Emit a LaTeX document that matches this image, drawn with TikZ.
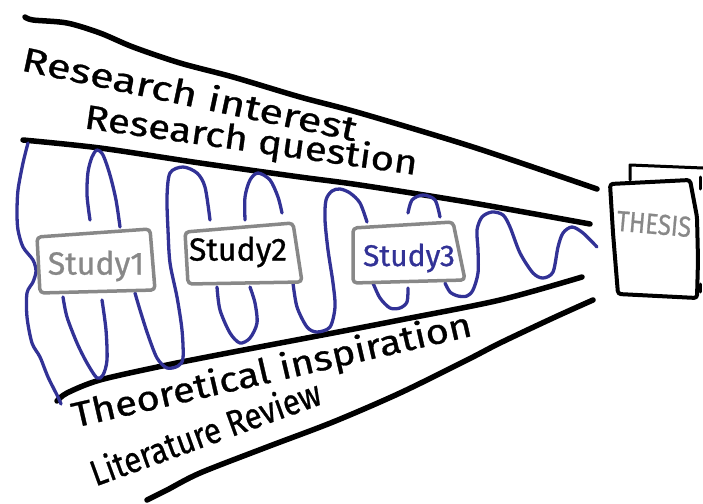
\documentclass[tikz,border=0pt]{standalone}
\usepackage{fontspec}
\setmainfont{Fira Sans}
\newfontfamily\handfont{Fira Sans}[FakeBold=0.8]
\definecolor{wavec}{RGB}{50,50,150}
\definecolor{boxgray}{RGB}{136,136,136}
\begin{document}
\begin{tikzpicture}[x=1pt,y=-1pt, line cap=round, line join=round,
  edge/.style={line width=5.5pt},
  wave/.style={draw=wavec, line width=3.3pt},
  studybox/.style={draw=boxgray, line width=3.5pt, fill=white, rounded corners=4pt},
  lab/.style={inner sep=0pt},
  slab/.style={inner sep=0pt}]
\useasboundingbox (0,0) rectangle (703,503);
% funnel lines
\draw[edge] plot[smooth] coordinates {(25,17) (33,20) (67,23) (100,33) (133,47) (180,63) (233,77) (300,97) (360,113) (473,147) (597,189)};
\draw[edge] plot[smooth] coordinates {(23,140) (100,148) (200,163) (300,177) (360,185) (473,203) (590,224)};
\draw[edge] plot[smooth] coordinates {(57,401) (67,393) (100,380) (167,365) (233,352) (333,333) (400,320) (500,300) (582,277)};
\draw[edge] plot[smooth] coordinates {(147,500) (167,490) (200,473) (267,447) (333,422) (400,393) (467,360) (500,343) (553,318) (593,300)};
% wave
\draw[wave] plot[smooth] coordinates {(28,143) (23,163) (18,190) (17,213) (18,230) (23,247) (33,260) (36,271) (33,282) (27,293) (27,317) (32,343) (40,357) (48,377) (58,397) (61,404)};
\draw[wave] plot[smooth] coordinates {(90,220) (87,195) (88,172) (92,157) (97,150) (103,155) (110,175) (116,200) (120,227)};
\draw[wave] plot[smooth] coordinates {(63,297) (67,317) (77,343) (87,363) (97,378) (103,375) (107,360) (106,330) (102,300)};
\draw[wave] plot[smooth] coordinates {(135,293) (140,310) (148,335) (157,358) (167,368) (178,366) (183,358) (182,330) (177,297) (170,263) (168,230) (167,197) (170,173) (183,167) (197,173) (205,187) (210,220)};
\draw[wave] plot[smooth] coordinates {(217,287) (220,310) (230,333) (240,343) (250,338) (257,323) (255,303) (250,287)};
\draw[wave] plot[smooth] coordinates {(245,220) (245,197) (250,180) (258,173) (270,180) (278,197) (282,213)};
\draw[wave] plot[smooth] coordinates {(293,283) (297,307) (307,327) (317,332) (330,327) (335,307) (333,283) (328,250) (325,220) (326,200) (332,191) (340,189) (350,193) (360,203) (367,222)};
\draw[wave] plot[smooth] coordinates {(408,213) (412,200) (423,195) (435,200) (440,217)};
\draw[wave] plot[smooth] coordinates {(373,283) (380,298) (390,308) (400,308) (407,302) (408,288)};
\draw[wave] plot[smooth] coordinates {(445,283) (450,292) (458,296) (467,296) (473,290) (478,273) (478,250) (477,230) (482,217) (492,212) (503,215) (510,227) (520,253) (533,273) (543,278) (553,272) (558,247) (563,233) (572,227) (583,233) (597,247)};
% study boxes
\draw[studybox] (37,237) -- (150,229) -- (155,290) -- (40,293) -- cycle;
\node[slab, text=boxgray, font=\handfont\fontsize{32}{32}\selectfont] (s1) at (96,266) {Study1};
\draw[studybox] (185,232) -- (293,223) -- (302,282) -- (188,284) -- cycle;
\node[slab, text=black, font=\handfont\fontsize{32}{32}\selectfont] (s2) at (238,252) {Study2};
\draw[studybox] (353,228) -- (453,222) -- (465,280) -- (353,283) -- cycle;
\node[slab, text=wavec, font=\handfont\fontsize{30}{30}\selectfont] (s3) at (409,258) {Study3};
% thesis
\draw[line width=3pt] (630,180) -- (630,165) -- (703,168);
\draw[line width=3pt] (700,177) -- (700,189);
\draw[line width=3pt] (700,284) -- (700,292);
\draw[line width=4pt, fill=white, rounded corners=3pt] (610,184) -- (613,233) -- (618,294) -- (697,298) -- (698,260) -- (697,217) -- (690,180) -- cycle;
\node[font=\handfont\fontsize{24}{24}\selectfont, text=boxgray, inner sep=0pt, rotate=-5] (th) at (654,224) {\scalebox{1}[1.2]{THESIS}};
% labels
\node[lab, rotate=-12, font=\handfont\fontsize{34}{34}\selectfont] (ri) at (190,93) {\scalebox{1.28}[1]{Research interest}};
\node[lab, rotate=-8, font=\handfont\fontsize{34}{34}\selectfont] (rq) at (251,142) {\scalebox{1.18}[1]{Research question}};
\node[lab, rotate=13, font=\handfont\fontsize{35}{35}\selectfont] (ti) at (272,372) {\scalebox{1.14}[1]{Theoretical inspiration}};
\node[lab, rotate=20, font=\handfont\fontsize{36}{36}\selectfont] (lr) at (205,432) {\scalebox{0.86}[1]{Literature Review}};
\end{tikzpicture}
\end{document}
